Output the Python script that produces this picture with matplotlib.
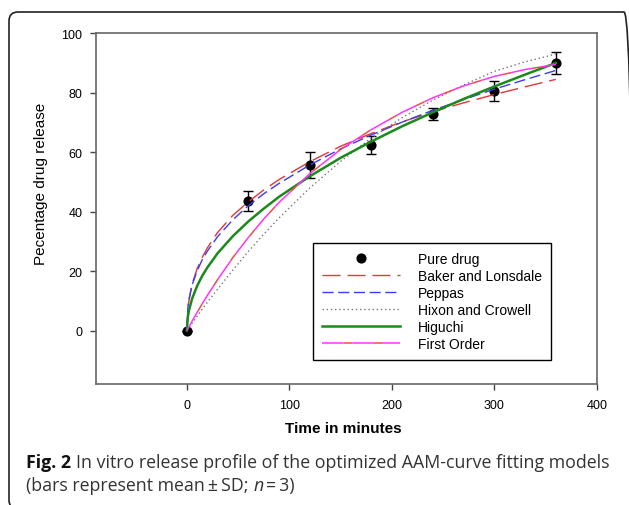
import matplotlib
matplotlib.use("Agg")
import matplotlib.pyplot as plt
from matplotlib.lines import Line2D
from matplotlib.patches import FancyBboxPatch
from matplotlib.transforms import IdentityTransform

# measured release (mean, SD)
t_obs = [0, 60, 120, 180, 240, 300, 360]
rel_obs = [0, 43.5, 55.7, 62.4, 72.8, 80.5, 90.0]
sd_obs = [0, 3.4, 4.4, 3.0, 2.0, 3.4, 3.6]

# fitted model curves
t_fit = [0, 1, 2, 5, 10, 15, 20, 30, 45, 60, 75, 90, 120, 150, 180, 210, 240, 270, 300, 330, 360]
baker = [0, 7.0, 10.0, 15.5, 20.8, 24.6, 27.8, 33.0, 38.8, 43.3, 47.3, 50.8, 56.8, 62.0, 66.3,
         70.2, 73.6, 76.6, 79.4, 82.0, 84.5]
peppas = [0, 7.8, 10.4, 15.2, 20.1, 23.8, 26.7, 31.6, 37.3, 42.0, 46.0, 49.5, 55.7, 61.1, 65.8,
          70.1, 74.1, 77.7, 81.2, 84.4, 87.5]
hixon = [0, 0.5, 1.0, 2.4, 4.8, 7.2, 9.5, 13.9, 20.4, 26.6, 32.4, 37.9, 48.0, 56.9, 64.8,
         71.6, 77.5, 82.6, 87.2, 90.4, 93.0]
higuchi = [0, 4.7, 6.7, 10.6, 15.0, 18.4, 21.2, 26.0, 31.8, 36.7, 41.0, 45.0, 51.9, 58.1, 63.6,
           68.7, 73.4, 77.9, 82.1, 86.1, 90.0]
first_order = [0, 0.6, 1.2, 3.1, 6.1, 9.0, 11.8, 17.1, 24.6, 31.3, 37.5, 43.1, 52.8, 60.9, 67.6,
               73.4, 78.3, 82.3, 85.5, 87.8, 89.5]

x_ticks = [0, 100, 200, 300, 400]
y_ticks = [0, 20, 40, 60, 80, 100]

plt.rcParams['font.family'] = ['Liberation Sans', 'DejaVu Sans']

fig = plt.figure(figsize=(6.29, 5.06), dpi=100)
ax = fig.add_axes([0.1521, 0.2391, 0.7966, 0.6931])

ax.errorbar(t_obs, rel_obs, yerr=sd_obs, fmt='o', color='black', ms=6.3,
            elinewidth=1, capsize=3.4, capthick=1, zorder=2)
lines = [
    ax.plot(t_fit, baker, color='#e8343a', lw=1, dashes=(13, 5), label='Baker and Lonsdale', zorder=3)[0],
    ax.plot(t_fit, peppas, color='#3c3cf0', lw=1, dashes=(8, 3.3), label='Peppas', zorder=3)[0],
    ax.plot(t_fit, hixon, color='#777777', lw=1, dashes=(1, 2), label='Hixon and Crowell', zorder=3)[0],
    ax.plot(t_fit, higuchi, color='#1a8a1a', lw=1.8, label='Higuchi', zorder=3)[0],
    ax.plot(t_fit, first_order, color='#ff33ff', gapcolor='#f04a4a', lw=1.1,
            linestyle=(0, (14, 6)), label='First Order', zorder=3)[0],
]
dot = Line2D([], [], ls='none', marker='o', ms=6.3, color='black', label='Pure drug')

ax.set_xlim(-89, 400)
ax.set_ylim(-18, 100)
ax.set_xticks(x_ticks)
ax.set_yticks(y_ticks)
ax.tick_params(axis='x', direction='out', length=4, width=1, color='#444', labelsize=9, pad=7)
ax.tick_params(axis='y', direction='out', length=4, width=1, color='#444', labelsize=9, pad=5.5)
for s in ax.spines.values():
    s.set_color('#666666')
    s.set_linewidth(1.2)

leg = ax.legend(handles=[dot] + lines, loc='upper left', bbox_to_anchor=(0.4337, 0.4035),
                borderaxespad=0, fancybox=False, edgecolor='black', framealpha=1, fontsize=10,
                handlelength=5.6, handletextpad=1.3, labelspacing=0.22, borderpad=0.65)
leg.get_frame().set_linewidth(1)

fig.text(343 / 629, 1 - 429 / 506, 'Time in minutes', ha='center', va='center',
         fontsize=11, fontweight='bold')
fig.text(41.5 / 629, 1 - 184 / 506, 'Pecentage drug release', ha='center', va='center',
         rotation=90, fontsize=11)

# rounded frame around the figure
frame = FancyBboxPatch((9, -4), 624, 497, boxstyle='round,pad=0,rounding_size=9',
                       transform=IdentityTransform(), fill=False, lw=1.2, ec='#222222')
fig.add_artist(frame)

# caption with mixed styles
renderer = fig.canvas.get_renderer()
cap_size = 12.8
cap_font = ['Open Sans', 'DejaVu Sans']


def runs(x, y, parts):
    for s, weight, style, col in parts:
        t = fig.text(x, y, s, transform=IdentityTransform(), fontsize=cap_size,
                     family=cap_font, fontweight=weight,
                     fontstyle=style, color=col, va='baseline', ha='left')
        x += t.get_window_extent(renderer).width
    return x


def width(s):
    t = fig.text(0, 0, s, fontsize=cap_size, family=cap_font)
    w = t.get_window_extent(renderer).width
    t.remove()
    return w


sp = width('x x') - width('xx')

x1 = runs(26, 506 - 468, [('Fig. 2', 'bold', 'normal', '#111111')])
runs(x1 + sp, 506 - 468, [('In vitro release profile of the optimized AAM-curve fitting models',
                           'normal', 'normal', '#333333')])
runs(26, 506 - 491, [('(bars represent mean\u2009\u00b1\u2009SD; ', 'normal', 'normal', '#333333'),
                     ('n', 'normal', 'italic', '#333333'),
                     ('\u2009=\u20093)', 'normal', 'normal', '#333333')])

fig.savefig('out.png', dpi=100)
